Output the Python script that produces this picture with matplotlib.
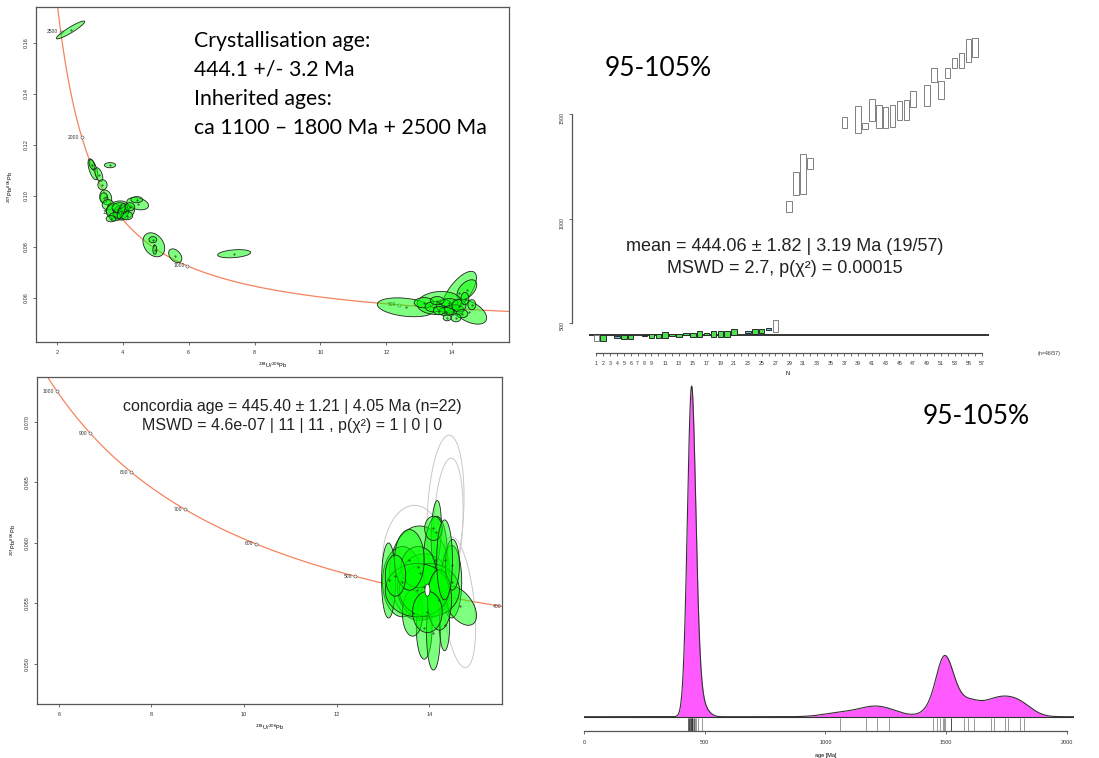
import numpy as np
import matplotlib
matplotlib.use('Agg')
import matplotlib.pyplot as plt
from matplotlib.patches import Polygon, Rectangle

plt.rcParams['font.family'] = ['Liberation Sans', 'DejaVu Sans']

W, H = 1099, 758

# ---- data ----
# Tera-Wasserburg ellipses, top panel: (238U/206Pb, half-width, 207Pb/206Pb, half-height, rho)
tw1_ellipses = [
    (2.41, 0.43, 0.1650, 0.0035, 0.93),
    (3.09, 0.15, 0.1104, 0.0041, -0.6), (3.06, 0.09, 0.1122, 0.0020, -0.5),
    (3.61, 0.17, 0.1120, 0.0010, 0.0), (3.27, 0.12, 0.1083, 0.0027, -0.5),
    (3.38, 0.14, 0.1043, 0.0020, 0.0), (3.48, 0.18, 0.0994, 0.0029, -0.2),
    (3.42, 0.12, 0.0992, 0.0020, 0.0),
    (3.55, 0.18, 0.0965, 0.0020, 0.0), (3.70, 0.21, 0.0945, 0.0024, 0.2),
    (3.85, 0.35, 0.0945, 0.0035, 0.2), (4.05, 0.30, 0.0935, 0.0030, 0.3),
    (3.85, 0.15, 0.0937, 0.0027, 0.5), (3.91, 0.24, 0.0953, 0.0020, 0.0),
    (4.00, 0.18, 0.0933, 0.0024, 0.3), (3.76, 0.18, 0.0918, 0.0016, 0.0),
    (4.12, 0.18, 0.0922, 0.0016, 0.0), (3.64, 0.15, 0.0910, 0.0012, 0.0),
    (4.45, 0.33, 0.0969, 0.0024, -0.3), (4.42, 0.18, 0.0985, 0.0012, 0.0),
    (4.21, 0.15, 0.0957, 0.0016, 0.0), (3.95, 0.12, 0.0940, 0.0030, 0.6),
    (4.94, 0.33, 0.0808, 0.0047, -0.3), (4.91, 0.12, 0.0828, 0.0012, 0.0),
    (4.97, 0.06, 0.0789, 0.0018, 0.0), (5.59, 0.20, 0.0765, 0.0027, -0.4),
    (7.38, 0.50, 0.0773, 0.0016, 0.3),
    (12.59, 0.86, 0.0563, 0.0037, -0.3), (14.21, 0.53, 0.0620, 0.0084, 0.7),
    (14.45, 0.30, 0.0632, 0.0039, 0.5), (14.52, 0.53, 0.0546, 0.0049, -0.5),
    (13.61, 0.67, 0.0580, 0.0045, 0.1), (13.15, 0.30, 0.0581, 0.0020, 0.0),
    (13.45, 0.27, 0.0565, 0.0020, 0.0), (13.76, 0.24, 0.0569, 0.0024, 0.0),
    (13.91, 0.27, 0.0581, 0.0016, 0.0), (14.06, 0.30, 0.0553, 0.0020, 0.0),
    (14.21, 0.21, 0.0569, 0.0024, 0.0), (13.82, 0.24, 0.0546, 0.0016, 0.0),
    (13.61, 0.18, 0.0550, 0.0016, 0.0), (14.30, 0.18, 0.0538, 0.0016, 0.0),
    (14.12, 0.15, 0.0522, 0.0016, 0.0), (13.85, 0.12, 0.0522, 0.0012, 0.0),
    (14.39, 0.12, 0.0597, 0.0024, 0.0), (14.60, 0.12, 0.0573, 0.0020, 0.0),
    (13.55, 0.21, 0.0589, 0.0016, 0.0),
]
tw1_ages = [500, 1000, 1500, 2000, 2500]

# bottom-left concordia panel
tw3_green = [
    (13.79, 0.65, 0.0575, 0.0039, 0.0), (13.42, 0.43, 0.0568, 0.0029, 0.0),
    (13.89, 0.58, 0.0564, 0.0027, 0.0), (14.15, 0.11, 0.0609, 0.0026, 0.2),
    (14.13, 0.26, 0.0586, 0.0036, 0.1), (14.48, 0.22, 0.0568, 0.0030, 0.0),
    (14.67, 0.35, 0.0548, 0.0016, -0.5), (13.89, 0.17, 0.0530, 0.0026, 0.0),
    (14.09, 0.15, 0.0526, 0.0031, 0.0), (13.64, 0.22, 0.0542, 0.0019, 0.0),
    (13.12, 0.15, 0.0569, 0.0031, 0.0), (14.33, 0.11, 0.0532, 0.0021, 0.0),
    (14.00, 0.65, 0.0561, 0.0022, 0.0), (13.76, 0.37, 0.0580, 0.0017, 0.0),
    (13.74, 0.69, 0.0561, 0.0022, 0.0), (14.09, 0.19, 0.0612, 0.0010, 0.0),
    (14.50, 0.15, 0.0582, 0.0021, 0.0), (13.57, 0.32, 0.0586, 0.0025, 0.0),
    (14.22, 0.26, 0.0553, 0.0025, 0.0), (13.27, 0.22, 0.0573, 0.0017, 0.0),
    (14.33, 0.17, 0.0586, 0.0033, 0.0), (13.96, 0.32, 0.0543, 0.0017, 0.0),
]
tw3_grey = [
    (14.35, 0.40, 0.0625, 0.0064, 0.2), (14.41, 0.32, 0.0616, 0.0054, 0.2),
    (13.68, 0.69, 0.0585, 0.0046, 0.0), (14.63, 0.37, 0.0551, 0.0054, -0.4),
]
tw3_mean = (13.96, 0.054, 0.0561, 0.0005, 0.0)
tw3_ages = [400, 500, 600, 700, 800, 900, 1000]

# weighted mean plot: aliquot number, age, half-height, status
wm_n = [1, 2, 4, 5, 6, 8, 9, 10, 11, 12, 13, 14, 15, 16, 17, 18, 19, 20, 21,
        23, 24, 25, 26, 27, 29, 30, 31, 32, 37, 39, 40, 41, 42, 43, 44, 45,
        46, 47, 49, 50, 51, 52, 53, 54, 55, 56]
wm_age = [429.5, 431.5, 434, 434.5, 436, 443, 440.5, 440.5, 444, 445.5, 443,
          447.5, 445.5, 447.5, 450, 448.5, 448.5, 448.5, 457, 457.5, 461.5,
          463.5, 471, 488.5, 1058, 1168, 1213, 1264.5, 1461, 1476, 1444,
          1520.5, 1490.5, 1486, 1493, 1518.5, 1521, 1574, 1590, 1686.5, 1616,
          1696, 1744, 1757.5, 1806, 1820]
wm_err = [13.5, 14.5, 4, 8.5, 10, 3, 9.5, 9.5, 13, 4.5, 7, 4.5, 9.5, 14.5, 5,
          14.5, 14.5, 14.5, 14, 5.5, 11.5, 11.5, 5, 28.5, 27, 54, 96, 27.5, 28,
          64, 16, 51.5, 54.5, 50, 52, 45.5, 48, 38, 50, 33.5, 43, 24, 24, 34.5,
          54, 44]
wm_status = ['rej', 'ok', 'out', 'ok', 'ok', 'ok', 'ok', 'ok', 'ok', 'ok', 'ok',
             'ok', 'ok', 'ok', 'ok', 'ok', 'ok', 'ok', 'ok', 'out', 'ok', 'ok',
             'out', 'rej'] + ['rej'] * 22
wm_mean = 444.06
wm_total = 57

# ---- helpers ----
L238, L235, U85 = 1.55125e-4, 9.8485e-4, 137.818


def concordia(t):
    e8 = np.exp(L238 * t) - 1
    e5 = np.exp(L235 * t) - 1
    return 1 / e8, e5 / e8 / U85


def ell_xy(x, ex, y, ey, rho, n=120):
    a = np.linspace(0, 2 * np.pi, n)
    return np.column_stack([x + ex * np.cos(a),
                            y + ey * (rho * np.cos(a) + np.sqrt(1 - rho ** 2) * np.sin(a))])


def px_axes(l, t, r, b):
    return fig.add_axes([l / W, 1 - b / H, (r - l) / W, (b - t) / H])


def r_style(ax, size=4):
    for s in ax.spines.values():
        s.set_color('#555555')
        s.set_linewidth(0.9)
    ax.tick_params(direction='out', length=2.5, width=0.5, colors='#333333',
                   labelsize=size, pad=3)
    ax.tick_params(axis='y', labelrotation=90)
    for lab in ax.get_yticklabels():
        lab.set_va('center')


def draw_concordia(ax, ages):
    t = np.linspace(300, 3000, 600)
    cx, cy = concordia(t)
    ax.plot(cx, cy, color='#F4845F', lw=0.9, zorder=1)
    for a in ages:
        px, py = concordia(a)
        ax.plot(px, py, 'o', ms=2.2, mfc='white', mec='#444444', mew=0.4, zorder=2)
        ax.annotate(str(a), (px, py), xytext=(-2, 0), textcoords='offset points',
                    ha='right', va='center', fontsize=3.6, color='#333333',
                    annotation_clip=False)


def draw_ellipses(ax, rows, fc, ec, lw=0.6, dots=True):
    for x, ex, y, ey, rho in rows:
        ax.add_patch(Polygon(ell_xy(x, ex, y, ey, rho), closed=True, fc=fc, ec=ec,
                             lw=lw, zorder=3))
        if dots:
            ax.plot(x, y, '.', ms=0.8, color='#222222', zorder=4)


fig = plt.figure(figsize=(W / 100, H / 100), dpi=100)

# ---- top-left concordia ----
ax1 = px_axes(36, 7, 509, 342)
ax1.set_xlim(1.36, 15.73)
ax1.set_ylim(0.0427, 0.174)
draw_concordia(ax1, tw1_ages)
draw_ellipses(ax1, tw1_ellipses, (0, 1, 0, 0.5), '#222222')
ax1.set_xticks(np.arange(2, 15, 2))
ax1.set_yticks([0.06, 0.08, 0.10, 0.12, 0.14, 0.16])
ax1.set_yticklabels(['0.06', '0.08', '0.10', '0.12', '0.14', '0.16'])
r_style(ax1)
ax1.set_xlabel(r'$^{238}$U/$^{206}$Pb', fontsize=4)
ax1.set_ylabel(r'$^{207}$Pb/$^{206}$Pb', fontsize=4)
ax1.xaxis.set_label_coords(0.501, -0.057)
ax1.yaxis.set_label_coords(-0.044, 0.463)

fig.text(194 / W, 1 - 133.5 / H,
         'Crystallisation age:\n444.1 +/- 3.2 Ma\nInherited ages:\nca 1100 \u2013 1800 Ma + 2500 Ma',
         family='Lato', fontsize=15.3, va='baseline', ha='left', linespacing=1.55,
         multialignment='left')

# ---- bottom-left concordia age ----
ax3 = px_axes(37, 377, 502, 704)
ax3.set_xlim(5.53, 15.57)
ax3.set_ylim(0.0467, 0.0737)
draw_concordia(ax3, tw3_ages)
draw_ellipses(ax3, tw3_grey, 'none', '#C8C8C8', lw=0.7, dots=False)
draw_ellipses(ax3, tw3_green, (0, 1, 0, 0.5), '#222222')
ax3.add_patch(Polygon(ell_xy(*tw3_mean), closed=True, fc='white', ec='#222222',
                      lw=0.5, zorder=5))
ax3.set_xticks(np.arange(6, 15, 2))
ax3.set_yticks([0.050, 0.055, 0.060, 0.065, 0.070])
ax3.set_yticklabels(['0.050', '0.055', '0.060', '0.065', '0.070'])
r_style(ax3)
ax3.set_xlabel(r'$^{238}$U/$^{206}$Pb', fontsize=4)
ax3.set_ylabel(r'$^{207}$Pb/$^{206}$Pb', fontsize=4)
ax3.xaxis.set_label_coords(0.501, -0.057)
ax3.yaxis.set_label_coords(-0.041, 0.50)
ax3.text(0.548, 1 - (410.5 - 377) / 327,
         'concordia age = 445.40 \u00b1 1.21 | 4.05 Ma (n=22)',
         transform=ax3.transAxes, ha='center', va='baseline', fontsize=11.5, color='#222222')
ax3.text(0.548, 1 - (430 - 377) / 327,
         'MSWD = 4.6e-07 | 11 | 11 , p(\u03c7\u00b2) = 1 | 0 | 0',
         transform=ax3.transAxes, ha='center', va='baseline', fontsize=11.5, color='#222222')

# ---- top-right weighted mean ----
ax2 = px_axes(589.4, 30, 989, 353)
ax2.set_xlim(0, 58)
ax2.set_ylim(357.9, 1903.4)
ax2.axhline(wm_mean, color='#333333', lw=1.4, zorder=1)
fills = {'ok': '#4FE04F', 'out': '#5FCFE0', 'rej': 'white'}
edges = {'ok': '#2A2A2A', 'out': '#2A2A2A', 'rej': '#808080'}
for n, a, e, s in zip(wm_n, wm_age, wm_err, wm_status):
    ax2.add_patch(Rectangle((n - 0.4, a - e), 0.8, 2 * e, fc=fills[s], ec=edges[s],
                            lw=0.7, zorder=2))
for s in ['top', 'right']:
    ax2.spines[s].set_visible(False)
r_style(ax2)
ax2.spines['left'].set_position(('outward', 12.5))
ax2.spines['left'].set_bounds(500, 1500)
ax2.spines['bottom'].set_bounds(1, wm_total)
ax2.set_yticks([500, 1000, 1500])
ax2.set_yticklabels(['500', '1000', '1500'])
ticks = np.arange(1, wm_total + 1)
ax2.set_xticks(ticks)
ax2.set_xticklabels([str(i) if (i <= 9 or i % 2 == 1) else '' for i in ticks])
ax2.tick_params(labelsize=3.8)
ax2.set_xlabel('N', fontsize=4)
ax2.xaxis.set_label_coords(0.497, -0.056)
ax2.text(1.15, 0.0, '(n=%d/%d)' % (len(wm_n), wm_total), transform=ax2.transAxes,
         fontsize=3.8, ha='center', va='center', color='#333333', clip_on=False)
fig.text(785 / W, 1 - 250.7 / H, 'mean = 444.06 \u00b1 1.82 | 3.19 Ma (19/57)',
         ha='center', va='baseline', fontsize=13, color='#222222')
fig.text(785 / W, 1 - 273 / H, 'MSWD = 2.7, p(\u03c7\u00b2) = 0.00015',
         ha='center', va='baseline', fontsize=13, color='#222222')
fig.text(605 / W, 1 - 76 / H, '95-105%', family='Lato', fontsize=19,
         ha='left', va='baseline')

# ---- bottom-right KDE ----
ages = np.array(wm_age)
h0 = 25.0
pilot = np.exp(-0.5 * ((ages[:, None] - ages[None, :]) / h0) ** 2).sum(1)
g = np.exp(np.mean(np.log(pilot)))
hi = h0 * np.sqrt(g / pilot)
grid = np.linspace(0, 2029, 2000)
dens = (np.exp(-0.5 * ((grid[:, None] - ages[None, :]) / hi[None, :]) ** 2) / hi[None, :]).sum(1)
pk = dens.max()

ax4 = px_axes(584, 384, 1074, 730.7)
top = pk * (716.7 - 384) / (716.7 - 386)
bot = -top * 14 / (716.7 - 384)
ax4.set_xlim(0, 2029)
ax4.set_ylim(bot, top)
ax4.fill_between(grid, 0, dens, color='#FF5AFF', lw=0, zorder=1)
ax4.plot(grid, dens, color='#333333', lw=0.8, zorder=2)
ax4.axhline(0, color='#333333', lw=0.8, zorder=2)
ax4.vlines(ages, bot, bot * 0.1, color='#333333', lw=0.5, alpha=0.7)
for s in ['top', 'right', 'left']:
    ax4.spines[s].set_visible(False)
r_style(ax4)
ax4.spines['bottom'].set_bounds(0, 2000)
ax4.set_yticks([])
ax4.set_xticks([0, 500, 1000, 1500, 2000])
ax4.tick_params(axis='x', pad=4)
ax4.set_xlabel('age [Ma]', fontsize=4)
ax4.xaxis.set_label_coords(1000 / 2029, -0.064)
fig.text(923 / W, 1 - 424 / H, '95-105%', family='Lato', fontsize=19,
         ha='left', va='baseline')

fig.savefig('out.png', dpi=100)
